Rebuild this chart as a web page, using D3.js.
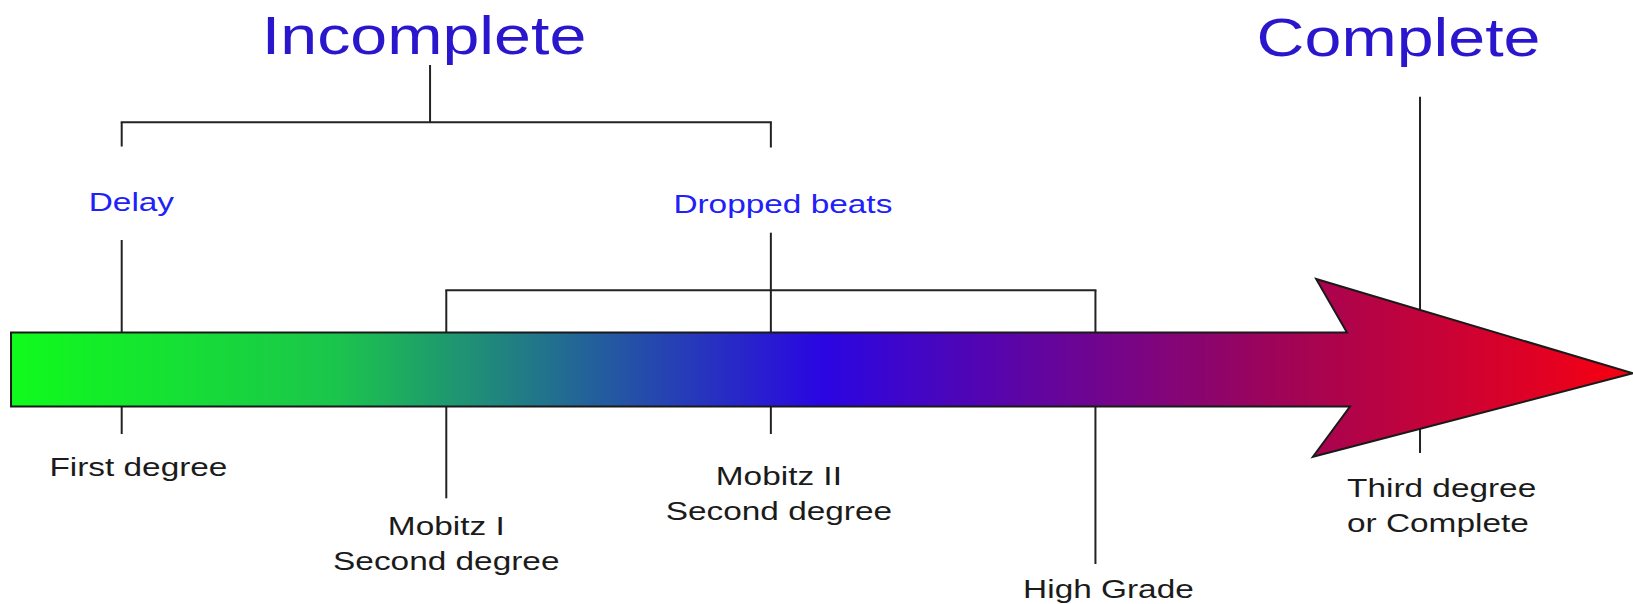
<!DOCTYPE html>
<html>
<head>
<meta charset="utf-8">
<script src="https://cdn.jsdelivr.net/npm/d3@7/dist/d3.min.js"></script>
<style>
  html, body { margin: 0; padding: 0; background: #ffffff; }
  svg { display: block; }
</style>
</head>
<body>
<svg id="chart" width="1633" height="604"></svg>
<script>
// ---------------- DATA ----------------
// Progression stages along the arrow (position in "severity units", 0..100)
const stages = ["First degree", "Mobitz I", "Mobitz II", "High Grade", "Third degree"];
const stageValues = [7, 27, 47, 67, 87];

// Labels under the arrow (one or two lines each)
const stageLabels = [
  ["First degree"],
  ["Mobitz I", "Second degree"],
  ["Mobitz II", "Second degree"],
  ["High Grade"],
  ["Third degree", "or Complete"]
];

// Group labels
const groupTitles = ["Incomplete", "Complete"];
const subGroupLabels = ["Delay", "Dropped beats"];
const incompleteStem = 26;

// ---------------- LAYOUT ----------------
const W = 1633, H = 604;
const svg = d3.select("#chart");
const x = d3.scaleLinear().domain([0, 100]).range([8.1, 1631.0]);

const lineColor = "#222222";
const textColor = "#1b1b1b";
const titleColor = "#2a16cc";
const subColor = "#2020f8";
const fontFamily = "'Liberation Sans', Arial, Helvetica, sans-serif";

const arrow = {
  start: 0.18, end: 100.12,
  bodyTop: 332.5, bodyBottom: 406.5,
  neck: 82.5,
  headTop: 279, headBottom: 456.7,
  headBackTop: 80.6, headBackBottom: 80.4,
  tipY: 373.3
};

// gradient
const defs = svg.append("defs");
const grad = defs.append("linearGradient")
  .attr("id", "arrowGrad")
  .attr("gradientUnits", "userSpaceOnUse")
  .attr("x1", x(arrow.start)).attr("y1", 0)
  .attr("x2", x(arrow.end)).attr("y2", 0);
[[0, "#10fb1c"], [0.2, "#1bc54c"], [0.5, "#2a06e2"], [0.78, "#9e0458"], [1, "#f80010"]]
  .forEach(([o, c]) => grad.append("stop").attr("offset", o).attr("stop-color", c));

const g = svg.append("g");

function vline(u, y1, y2) {
  g.append("line")
    .attr("x1", x(u)).attr("x2", x(u))
    .attr("y1", y1).attr("y2", y2)
    .attr("stroke", lineColor).attr("stroke-width", 2);
}
function hline(u1, u2, y) {
  g.append("line")
    .attr("x1", x(u1) - 1).attr("x2", x(u2) + 1)
    .attr("y1", y).attr("y2", y)
    .attr("stroke", lineColor).attr("stroke-width", 2);
}

// Incomplete bracket
vline(incompleteStem, 65, 122.3);
hline(stageValues[0], stageValues[2], 122.3);
vline(stageValues[0], 122.3, 146.5);
vline(stageValues[2], 122.3, 147.5);

// Delay / First degree line
vline(stageValues[0], 240, 434);
// Dropped beats / Mobitz II line
vline(stageValues[2], 232.7, 434);
// Mobitz I - High Grade bracket
hline(stageValues[1], stageValues[3], 290.3);
vline(stageValues[1], 290.3, 498.3);
vline(stageValues[3], 290.3, 564);
// Complete line
vline(stageValues[4], 96.7, 453);

// Arrow polygon
const pts = [
  [x(arrow.start), arrow.bodyTop],
  [x(arrow.neck), arrow.bodyTop],
  [x(arrow.headBackTop), arrow.headTop],
  [x(arrow.end), arrow.tipY],
  [x(arrow.headBackBottom), arrow.headBottom],
  [x(arrow.neck) + 3, arrow.bodyBottom],
  [x(arrow.start), arrow.bodyBottom]
];
g.append("path")
  .attr("d", d3.line()(pts) + "Z")
  .attr("fill", "url(#arrowGrad)")
  .attr("stroke", "#1a1a1a")
  .attr("stroke-width", 2)
  .attr("stroke-linejoin", "miter");

// Text helper (horizontally stretched to match the reference)
function label(txt, cx, y, size, stretch, color, anchor) {
  g.append("text")
    .attr("transform", `translate(${cx},${y}) scale(${stretch},1)`)
    .attr("text-anchor", anchor || "middle")
    .attr("font-family", fontFamily)
    .attr("font-size", size)
    .attr("fill", color)
    .text(txt);
}

// Titles
label(groupTitles[0], x(incompleteStem) - 6, 54, 53.5, 1.24, titleColor);
label(groupTitles[1], x(stageValues[4]) - 21.5, 56, 53.5, 1.24, titleColor);

// Sub group labels
label(subGroupLabels[0], x(stageValues[0]) + 9.7, 210.5, 26.5, 1.26, subColor);
label(subGroupLabels[1], x(stageValues[2]) + 12, 213, 26.5, 1.26, subColor);

// Stage labels under arrow
const labelOffsets = [16.7, 0, 8, 13, -73];
const labelBaselines = [476, 534.5, 485, 598, 497.3];
const labelAnchors = ["middle", "middle", "middle", "middle", "start"];
const lineGap = 35;
stageLabels.forEach((lines, i) => {
  lines.forEach((t, j) => {
    label(t, x(stageValues[i]) + labelOffsets[i], labelBaselines[i] + j * lineGap, 26.5, 1.26, textColor, labelAnchors[i]);
  });
});
</script>
</body>
</html>
